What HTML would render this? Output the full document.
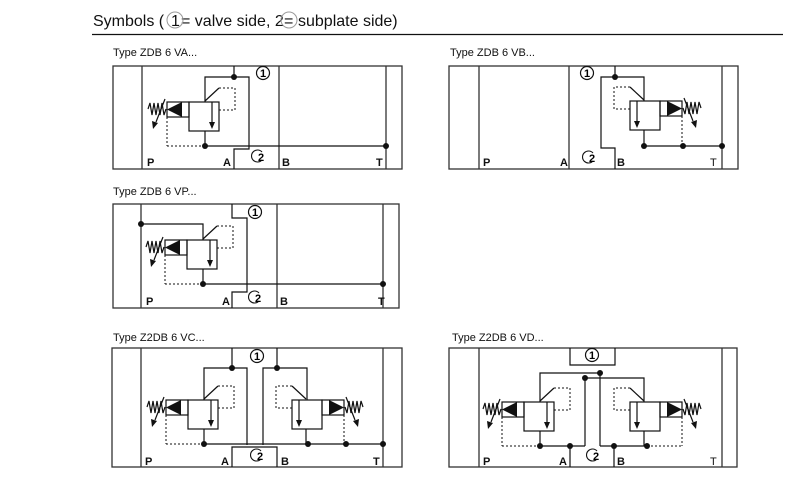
<!DOCTYPE html>
<html><head><meta charset="utf-8"><style>
html,body{margin:0;padding:0;background:#fff;}
svg{display:block;}
text{font-family:"Liberation Sans",Arial,sans-serif;}
</style></head><body>
<svg width="793" height="491" viewBox="0 0 793 491" xmlns="http://www.w3.org/2000/svg">
<defs>
<g id="valve" fill="none" stroke="#111" stroke-width="1.2">
  <polyline points="148,109 150,103 152,115 154,103 156,115 158,103 160,115 162,103 164,115 166,109"/>
  <line x1="165" y1="99" x2="156" y2="122"/>
  <polygon points="152,121 158,123 153,129" fill="#111" stroke="none"/>
  <rect x="167" y="102" width="22" height="15"/>
  <polygon points="167,109.5 182,102 182,117" fill="#111" stroke="none"/>
  <rect x="189" y="102" width="30" height="29"/>
  <line x1="212" y1="102" x2="212" y2="124"/>
  <polygon points="209,122 215,122 212,129" fill="#111" stroke="none"/>
  <line x1="205" y1="131" x2="205" y2="146"/>
  <line x1="205" y1="101" x2="219" y2="88"/>
  <polyline points="219,88 235,88 235,110 219,110" stroke-dasharray="2,2" stroke-width="1"/>
  <line x1="167" y1="117" x2="167" y2="146" stroke-dasharray="2,2" stroke-width="1"/>
</g>
<g id="c1">
  <circle cx="0" cy="0" r="6.5" fill="#fff" stroke="#111" stroke-width="1.2"/>
  <text x="0" y="4" font-size="11" font-weight="bold" text-anchor="middle">1</text>
</g>
<g id="c2">
  <path d="M4,-4 A6,6 0 1 0 4,4" fill="none" stroke="#111" stroke-width="1.1"/>
  <text x="3" y="5" font-size="11" font-weight="bold" text-anchor="middle">2</text>
</g>
</defs>

<g font-size="16" fill="#111">
<text x="93" y="26">Symbols (</text>
<text x="171" y="26">1</text>
<text x="181" y="26">= valve side, 2</text>
<text x="284" y="26">=</text>
<text x="298" y="26">subplate side)</text>
</g>
<circle cx="175" cy="20" r="8" fill="none" stroke="#999" stroke-width="1"/>
<circle cx="289" cy="20" r="8" fill="none" stroke="#999" stroke-width="1"/>
<line x1="92" y1="34.5" x2="783" y2="34.5" stroke="#111" stroke-width="1.2"/>

<g font-size="11" fill="#111">
<text x="113" y="56">Type ZDB 6 VA...</text>
<text x="450" y="56">Type ZDB 6 VB...</text>
<text x="113" y="195">Type ZDB 6 VP...</text>
<text x="113" y="341">Type Z2DB 6 VC...</text>
<text x="452" y="341">Type Z2DB 6 VD...</text>
</g>

<g fill="none" stroke="#333" stroke-width="1.3">
<rect x="113" y="66" width="289" height="103"/>
<line x1="142" y1="66" x2="142" y2="169"/><line x1="386" y1="66" x2="386" y2="169"/><line x1="279" y1="66" x2="279" y2="169"/>
<rect x="449" y="66" width="289" height="103"/>
<line x1="479" y1="66" x2="479" y2="169"/><line x1="722" y1="66" x2="722" y2="169"/><line x1="569" y1="66" x2="569" y2="169"/>
<rect x="113" y="204" width="286" height="104"/>
<line x1="141" y1="204" x2="141" y2="308"/><line x1="383" y1="204" x2="383" y2="308"/><line x1="277" y1="204" x2="277" y2="308"/>
<rect x="112" y="348" width="290" height="119"/>
<line x1="141" y1="348" x2="141" y2="467"/><line x1="383" y1="348" x2="383" y2="467"/>
<rect x="449" y="348" width="288" height="119"/>
<line x1="479" y1="348" x2="479" y2="467"/><line x1="722" y1="348" x2="722" y2="467"/>
</g>

<g fill="none" stroke="#111" stroke-width="1.2">
<polyline points="234,66 234,77"/>
<polyline points="205,102 205,77 249,77 249,149 234,149 234,169"/>
<line x1="205" y1="146" x2="386" y2="146"/>
<line x1="167" y1="146" x2="205" y2="146" stroke-dasharray="2,2" stroke-width="1"/>
<polyline points="615,66 615,77"/>
<polyline points="644,101 644,77 601,77 601,148 615,148 615,169"/>
<line x1="644" y1="146" x2="722" y2="146"/>
<polyline points="232,204 232,218 247,218 247,292 232,292 232,308"/>
<polyline points="141,224 203,224 203,240"/>
<line x1="203" y1="284" x2="383" y2="284"/>
<line x1="165" y1="284" x2="203" y2="284" stroke-dasharray="2,2" stroke-width="1"/>
<line x1="232" y1="348" x2="232" y2="368"/><line x1="277" y1="348" x2="277" y2="368"/>
<polyline points="204,400 204,368 247,368 247,445"/>
<polyline points="307,400 307,368 263,368 263,445"/>
<polyline points="232,467 232,447 277,447 277,467"/>
<line x1="204" y1="444" x2="383" y2="444"/>
<line x1="166" y1="444" x2="204" y2="444" stroke-dasharray="2,2" stroke-width="1"/>
<polyline points="570,348 570,365 615,365 615,348"/>
<polyline points="540,402 540,373 600,373 600,446"/>
<polyline points="644,402 644,378 585,378 585,446"/>
<line x1="540" y1="446" x2="585" y2="446"/>
<line x1="502" y1="446" x2="540" y2="446" stroke-dasharray="2,2" stroke-width="1"/>
<line x1="600" y1="446" x2="647" y2="446"/>
<line x1="647" y1="446" x2="682" y2="446" stroke-dasharray="2,2" stroke-width="1"/>
<line x1="570" y1="446" x2="570" y2="467"/>
<line x1="614" y1="446" x2="614" y2="467"/>
</g>

<use href="#valve"/>
<use href="#valve" transform="translate(849,-1) scale(-1,1)"/>
<use href="#valve" transform="translate(-2,138)"/>
<use href="#valve" transform="translate(-1,298)"/>
<use href="#valve" transform="translate(511,298) scale(-1,1)"/>
<use href="#valve" transform="translate(335,300)"/>
<use href="#valve" transform="translate(849,300) scale(-1,1)"/>

<g fill="#111">
<circle cx="234" cy="77" r="3"/><circle cx="205" cy="146" r="3"/><circle cx="386" cy="146" r="3"/>
<circle cx="615" cy="77" r="3"/><circle cx="683" cy="146" r="3"/><circle cx="644" cy="146" r="3"/><circle cx="722" cy="146" r="3"/>
<circle cx="141" cy="224" r="3"/><circle cx="203" cy="284" r="3"/><circle cx="383" cy="284" r="3"/>
<circle cx="232" cy="368" r="3"/><circle cx="277" cy="368" r="3"/><circle cx="204" cy="444" r="3"/><circle cx="308" cy="444" r="3"/><circle cx="346" cy="444" r="3"/><circle cx="383" cy="444" r="3"/>
<circle cx="600" cy="373" r="3"/><circle cx="585" cy="378" r="3"/><circle cx="540" cy="446" r="3"/><circle cx="570" cy="446" r="3"/><circle cx="614" cy="446" r="3"/><circle cx="647" cy="446" r="3"/>
</g>

<use href="#c1" x="263" y="73"/><use href="#c2" x="258" y="156"/>
<use href="#c1" x="587" y="73"/><use href="#c2" x="589" y="157"/>
<use href="#c1" x="255" y="212"/><use href="#c2" x="255" y="297"/>
<use href="#c1" x="257" y="356"/><use href="#c2" x="257" y="455"/>
<use href="#c1" x="592" y="355"/><use href="#c2" x="593" y="455"/>

<g font-size="11" font-weight="bold" fill="#111">
<text x="147" y="166">P</text><text x="223" y="166">A</text><text x="282" y="166">B</text><text x="376" y="166">T</text>
<text x="483" y="166">P</text><text x="560" y="166">A</text><text x="617" y="166">B</text><text x="710" y="166" font-weight="normal">T</text>
<text x="146" y="305">P</text><text x="222" y="305">A</text><text x="280" y="305">B</text><text x="378" y="305">T</text>
<text x="145" y="465">P</text><text x="221" y="465">A</text><text x="281" y="465">B</text><text x="373" y="465">T</text>
<text x="483" y="465">P</text><text x="559" y="465">A</text><text x="617" y="465">B</text><text x="710" y="465" font-weight="normal">T</text>
</g>
</svg>
</body></html>
